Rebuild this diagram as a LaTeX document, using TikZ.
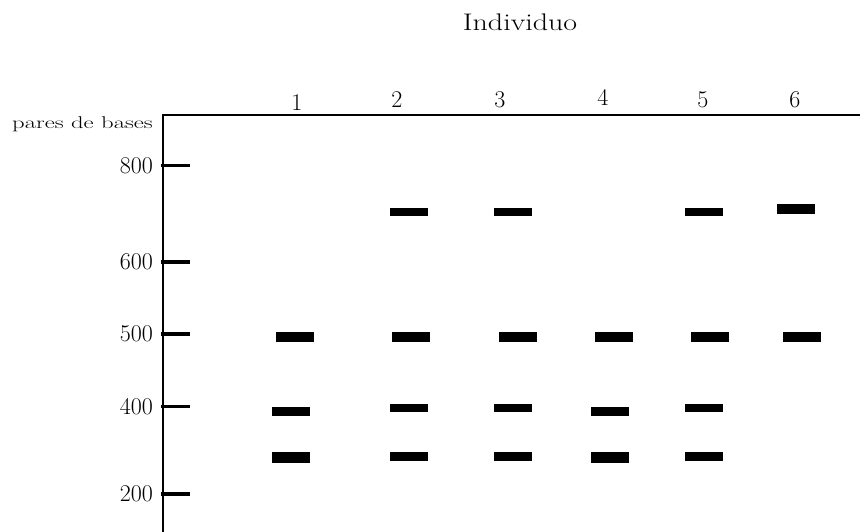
\documentclass[tikz,border=0pt]{standalone}
\begin{document}
\begin{tikzpicture}[x=1pt,y=-1pt,
  band/.style={fill=black,draw=none,minimum width=38pt,minimum height=#1,inner sep=0pt},
  band/.default=9pt,
  axlab/.style={anchor=east,inner sep=0pt,font=\fontsize{24}{27}\selectfont},
  collab/.style={inner sep=0pt,font=\fontsize{24}{27}\selectfont},
  tick/.style={line width=3.5pt},
  axis/.style={line width=1.8pt}]
\useasboundingbox (0,0) rectangle (860,532);
% axes
\coordinate (o) at (163,115);
\coordinate (r) at (861,115);
\coordinate (b) at (163,533);
\draw[axis] (r) -- (o) -- (b);
% ticks and labels
\foreach \v/\y in {800/165.7,600/262,500/334,400/406.7,200/494}{
  \coordinate (t\v) at (161,\y);
  \coordinate (te\v) at (190,\y);
  \draw[tick] (t\v) -- (te\v);
  \node[axlab] (l\v) at (153,\y) {\v};
}
\node[anchor=east,inner sep=0pt,font=\fontsize{17}{19}\selectfont] (pdb) at (153,124) {\scalebox{1.45}[1]{pares de bases}};
\node[collab] (ind) at (520,22) {\scalebox{1.25}[1]{Individuo}};
\node[collab] (c1) at (297,103) {1};
\node[collab] (c2) at (397,100) {2};
\node[collab] (c3) at (500,100) {3};
\node[collab] (c4) at (603,97) {4};
\node[collab] (c5) at (703,100) {5};
\node[collab] (c6) at (795,100) {6};
% bands 700
\node[band=8pt] (a2) at (409,212) {};
\node[band=8pt] (a3) at (513,212) {};
\node[band=8pt] (a5) at (703.5,212) {};
\node[band=10pt] (a6) at (796,209) {};
% bands 500
\node[band=10pt] (b1) at (295,337) {};
\node[band=10pt] (b2) at (411,337) {};
\node[band=10pt] (b3) at (517.5,337) {};
\node[band=10pt] (b4) at (613.5,337) {};
\node[band=10pt] (b5) at (709.5,337) {};
\node[band=10pt] (b6) at (802,337) {};
% bands 400
\node[band=9pt] (d1) at (291,411.5) {};
\node[band=8pt] (d2) at (409,408) {};
\node[band=8pt] (d3) at (513,408) {};
\node[band=9pt] (d4) at (609.5,411.5) {};
\node[band=8pt] (d5) at (703.5,408) {};
% bands 300
\node[band=11pt] (e1) at (291,457.5) {};
\node[band=9pt] (e2) at (409,456.5) {};
\node[band=9pt] (e3) at (513,456.5) {};
\node[band=11pt] (e4) at (609.5,457.5) {};
\node[band=9pt] (e5) at (703.5,456.5) {};
\end{tikzpicture}
\end{document}
